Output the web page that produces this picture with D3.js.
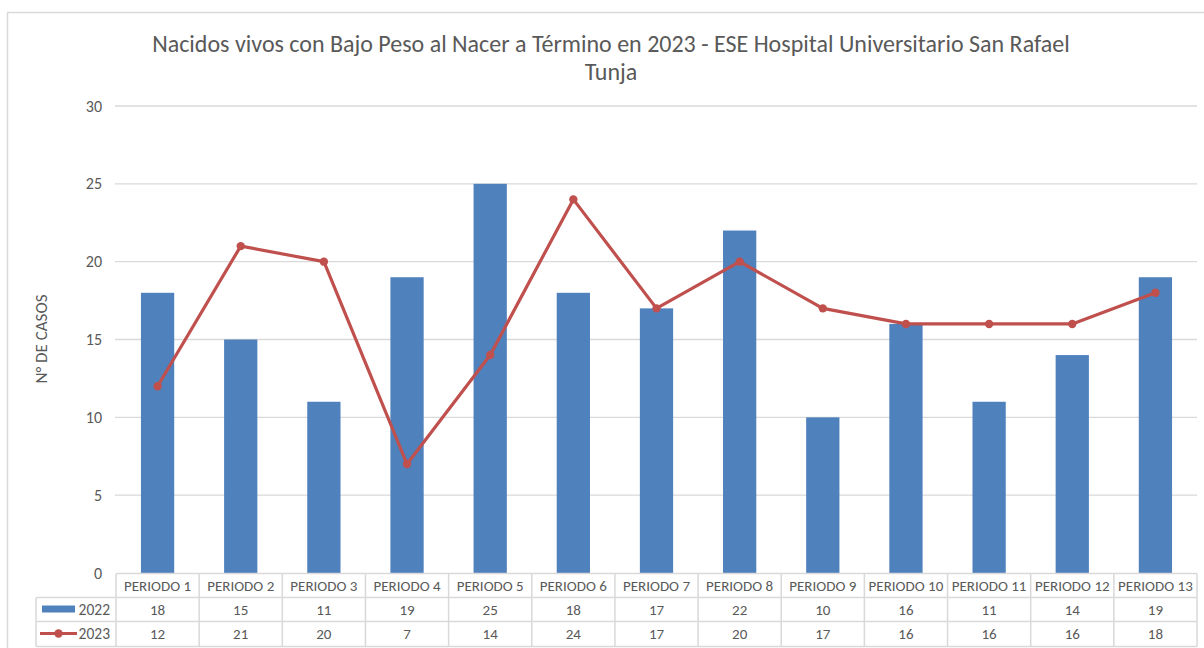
<!DOCTYPE html>
<html><head><meta charset="utf-8">
<script src="https://cdn.jsdelivr.net/npm/d3@7"></script>
<style>body{margin:0;background:#fff}svg{display:block}</style>
</head><body>
<svg id="c" width="1204" height="648"></svg>
<script>
const categories = ["PERIODO 1","PERIODO 2","PERIODO 3","PERIODO 4","PERIODO 5","PERIODO 6","PERIODO 7","PERIODO 8","PERIODO 9","PERIODO 10","PERIODO 11","PERIODO 12","PERIODO 13"];
const values2022 = [18,15,11,19,25,18,17,22,10,16,11,14,19];
const values2023 = [12,21,20,7,14,24,17,20,17,16,16,16,18];
const yTicks = [0,5,10,15,20,25,30];
const seriesNames = ["2022","2023"];

const svg = d3.select("#c");
const font = "Calibri, Carlito, 'Open Sans', sans-serif";
const txt = "#595959", grid = "#d9d9d9";
const barColor = "#4F81BD", lineColor = "#C0504D";

// outer border
svg.append("path").attr("d","M7.5,648 V12.5 H1204").attr("fill","none").attr("stroke","#d9d9d9").attr("stroke-width",1.5);

const x0 = 116, x1 = 1197, yTop = 106, yBot = 573;
const x = d3.scaleBand().domain(categories).range([x0,x1]);
const y = d3.scaleLinear().domain([0,30]).range([yBot,yTop]);

// title
const title = svg.append("text").attr("text-anchor","middle").attr("fill",txt).style("font-family",font).style("font-size","24px");
title.append("tspan").attr("x",611).attr("y",52).text("Nacidos vivos con Bajo Peso al Nacer a Término  en 2023 - ESE Hospital Universitario San Rafael");
title.append("tspan").attr("x",611).attr("y",80).text("Tunja");

// gridlines
svg.append("g").selectAll("line").data(yTicks.filter(d=>d>0)).join("line")
  .attr("x1",x0-1).attr("x2",x1).attr("y1",d=>y(d)).attr("y2",d=>y(d))
  .attr("stroke",grid).attr("stroke-width",1.3);

// y axis labels
const yAxis = d3.axisLeft(y).tickValues(yTicks).tickSize(0).tickPadding(0);
const ga = svg.append("g").attr("transform",`translate(102,0)`).call(yAxis);
ga.select(".domain").remove();
ga.selectAll("text").attr("fill",txt).style("font-family",font).style("font-size","16px");

// y axis title
svg.append("text").attr("transform",`translate(47,339) rotate(-90)`).attr("text-anchor","middle")
  .attr("fill",txt).style("font-family",font).style("font-size","17px").text("N° DE CASOS");

// bars
const bw = x.bandwidth()*0.4;
svg.append("g").selectAll("rect").data(values2022).join("rect")
  .attr("x",(d,i)=>x(categories[i])+x.bandwidth()/2-bw/2)
  .attr("width",bw)
  .attr("y",d=>y(d)).attr("height",d=>y(0)-y(d))
  .attr("fill",barColor);

// line
const line = d3.line().x((d,i)=>x(categories[i])+x.bandwidth()/2).y(d=>y(d));
svg.append("path").datum(values2023).attr("d",line).attr("fill","none")
  .attr("stroke",lineColor).attr("stroke-width",3.2).attr("stroke-linejoin","round");
svg.append("g").selectAll("circle").data(values2023).join("circle")
  .attr("cx",(d,i)=>x(categories[i])+x.bandwidth()/2).attr("cy",d=>y(d)).attr("r",4.2).attr("fill",lineColor);

// data table
const rowH = [573.5,597.5,621.5,646.5];
const tbl = svg.append("g").attr("stroke",grid).attr("stroke-width",1.5).attr("fill","none");
const legX = 36;
tbl.append("line").attr("x1",x0).attr("x2",x1).attr("y1",rowH[0]).attr("y2",rowH[0]);
[1,2,3].forEach(i=>tbl.append("line").attr("x1",legX).attr("x2",x1).attr("y1",rowH[i]).attr("y2",rowH[i]));
tbl.append("line").attr("x1",legX).attr("x2",legX).attr("y1",rowH[1]).attr("y2",rowH[3]);
const vx = categories.map(c=>x(c)).concat([x1]);
tbl.selectAll("line.v").data(vx).join("line").attr("class","v")
  .attr("x1",d=>d).attr("x2",d=>d).attr("y1",rowH[0]).attr("y2",rowH[3]);

const tf = (sel)=>sel.attr("fill",txt).style("font-family",font).style("font-size","15px").attr("text-anchor","middle");
svg.append("g").selectAll("text").data(categories).join("text").call(tf)
  .attr("x",d=>x(d)+x.bandwidth()/2).attr("y",590.5).text(d=>d);
svg.append("g").selectAll("text").data(values2022).join("text").call(tf)
  .attr("x",(d,i)=>x(categories[i])+x.bandwidth()/2).attr("y",614.5).text(d=>d);
svg.append("g").selectAll("text").data(values2023).join("text").call(tf)
  .attr("x",(d,i)=>x(categories[i])+x.bandwidth()/2).attr("y",639).text(d=>d);

// legend keys
svg.append("rect").attr("x",42).attr("y",605.5).attr("width",33).attr("height",7).attr("fill",barColor);
svg.append("line").attr("x1",40).attr("x2",77).attr("y1",633.5).attr("y2",633.5).attr("stroke",lineColor).attr("stroke-width",3.2);
svg.append("circle").attr("cx",58.5).attr("cy",633.5).attr("r",4.2).attr("fill",lineColor);
svg.append("text").attr("x",110).attr("y",614.5).attr("text-anchor","end").attr("fill",txt).style("font-family",font).style("font-size","15.5px").text(seriesNames[0]);
svg.append("text").attr("x",110).attr("y",639).attr("text-anchor","end").attr("fill",txt).style("font-family",font).style("font-size","15.5px").text(seriesNames[1]);
</script>
</body></html>
